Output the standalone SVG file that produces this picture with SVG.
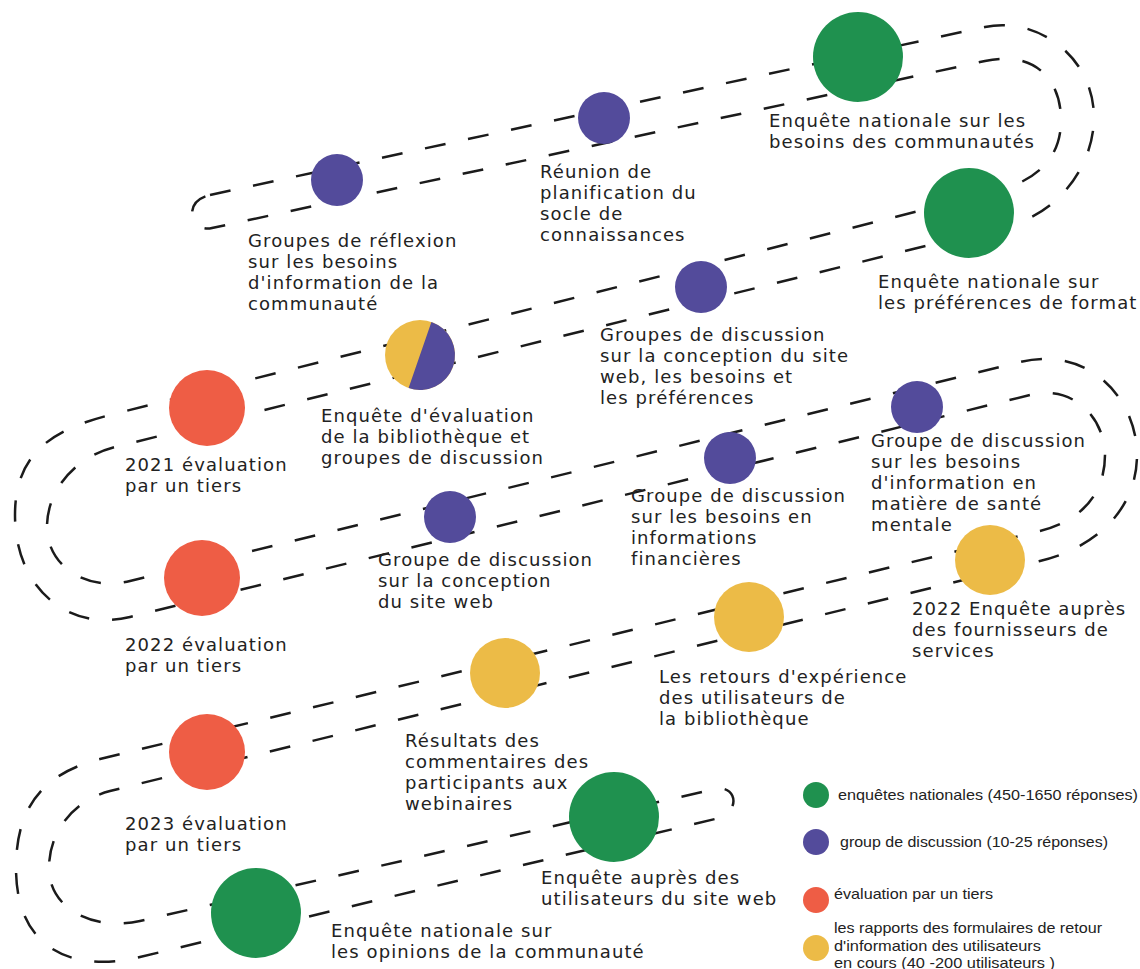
<svg xmlns="http://www.w3.org/2000/svg" width="1140" height="969" viewBox="0 0 1140 969">
<style>
.rd{fill:none;stroke:#1b1b1b;stroke-width:2.5;stroke-dasharray:21 23}
.lb{font-family:"DejaVu Sans","Liberation Sans",sans-serif;font-size:18px;letter-spacing:1.1px;fill:#222}
.lg{font-family:"Liberation Sans",Arial,sans-serif;font-size:15px;fill:#222}
.g{fill:#1f914f}.p{fill:#534b9b}.r{fill:#ee5d45}.y{fill:#ecbb47}
</style>
<rect width="1140" height="969" fill="#fff"/>
<g id="connectors">
<path class="rd" d="M 210,195 L 985,27 C 1035,16 1094,55 1094,118 C 1093,170 1055,214 1010,225 L 115,447 C 75,457 47,490 47,527 C 47,565 85,592 130,581 L 1020,362 C 1090,345 1137,400 1137,455 C 1137,510 1095,548 1040,561 L 110,791 C 75,800 49,830 49,868 C 49,910 95,931 140,921 L 715,789 C 737,784 742,813 715,819 L 140,957 C 80,972 16,955 16,868 C 16,800 50,772 100,759 L 1040,531 C 1080,521 1105,495 1105,455 C 1105,420 1075,384 1030,395 L 130,617 C 70,632 15,590 15,515 C 15,455 50,430 110,415 L 990,193 C 1035,182 1061,160 1061,120 C 1061,80 1035,50 985,61 L 212,228 C 190,233 182,201 210,195 Z"/>
</g>
<g id="n1"><circle class="p" cx="337" cy="180" r="26"/>
<text class="lb" x="248" y="247"><tspan x="248">Groupes de réflexion</tspan><tspan x="248" dy="21">sur les besoins</tspan><tspan x="248" dy="21">d'information de la</tspan><tspan x="248" dy="21">communauté</tspan></text></g>
<g id="n2"><circle class="p" cx="604" cy="118" r="26"/>
<text class="lb" x="540" y="178"><tspan x="540">Réunion de</tspan><tspan x="540" dy="21">planification du</tspan><tspan x="540" dy="21">socle de</tspan><tspan x="540" dy="21">connaissances</tspan></text></g>
<g id="n3"><circle class="g" cx="858" cy="57" r="45"/>
<text class="lb" x="769" y="127"><tspan x="769">Enquête nationale sur les</tspan><tspan x="769" dy="21">besoins des communautés</tspan></text></g>
<g id="n4"><circle class="g" cx="969" cy="213" r="45"/>
<text class="lb" x="878" y="288"><tspan x="878">Enquête nationale sur</tspan><tspan x="878" dy="21">les préférences de format</tspan></text></g>
<g id="n5"><circle class="p" cx="701" cy="287" r="26"/>
<text class="lb" x="600" y="341"><tspan x="600">Groupes de discussion</tspan><tspan x="600" dy="21">sur la conception du site</tspan><tspan x="600" dy="21">web, les besoins et</tspan><tspan x="600" dy="21">les préférences</tspan></text></g>
<g id="n6"><circle class="y" cx="420" cy="355" r="35"/><path class="p" d="M 431.4,321.9 A 35 35 0 0 1 408.6,388.1 Z"/>
<text class="lb" x="321" y="422"><tspan x="321">Enquête d'évaluation</tspan><tspan x="321" dy="21">de la bibliothèque et</tspan><tspan x="321" dy="21">groupes de discussion</tspan></text></g>
<g id="n7"><circle class="r" cx="207" cy="408" r="38"/>
<text class="lb" x="125" y="471"><tspan x="125">2021 évaluation</tspan><tspan x="125" dy="21">par un tiers</tspan></text></g>
<g id="n8"><circle class="p" cx="450" cy="517" r="26"/>
<text class="lb" x="378" y="566"><tspan x="378">Groupe de discussion</tspan><tspan x="378" dy="21">sur la conception</tspan><tspan x="378" dy="21">du site web</tspan></text></g>
<g id="n9"><circle class="p" cx="730" cy="458" r="26"/>
<text class="lb" x="631" y="502"><tspan x="631">Groupe de discussion</tspan><tspan x="631" dy="21">sur les besoins en</tspan><tspan x="631" dy="21">informations</tspan><tspan x="631" dy="21">financières</tspan></text></g>
<g id="n10"><circle class="p" cx="917" cy="407" r="26"/>
<text class="lb" x="871" y="447"><tspan x="871">Groupe de discussion</tspan><tspan x="871" dy="21">sur les besoins</tspan><tspan x="871" dy="21">d'information en</tspan><tspan x="871" dy="21">matière de santé</tspan><tspan x="871" dy="21">mentale</tspan></text></g>
<g id="n11"><circle class="r" cx="202" cy="578" r="38"/>
<text class="lb" x="125" y="651"><tspan x="125">2022 évaluation</tspan><tspan x="125" dy="21">par un tiers</tspan></text></g>
<g id="n12"><circle class="y" cx="990" cy="560" r="35"/>
<text class="lb" x="912" y="615"><tspan x="912">2022 Enquête auprès</tspan><tspan x="912" dy="21">des fournisseurs de</tspan><tspan x="912" dy="21">services</tspan></text></g>
<g id="n13"><circle class="y" cx="749" cy="617" r="35"/>
<text class="lb" x="659" y="683"><tspan x="659">Les retours d'expérience</tspan><tspan x="659" dy="21">des utilisateurs de</tspan><tspan x="659" dy="21">la bibliothèque</tspan></text></g>
<g id="n14"><circle class="y" cx="505" cy="673" r="35"/>
<text class="lb" x="405" y="747"><tspan x="405">Résultats des</tspan><tspan x="405" dy="21">commentaires des</tspan><tspan x="405" dy="21">participants aux</tspan><tspan x="405" dy="21">webinaires</tspan></text></g>
<g id="n15"><circle class="r" cx="207" cy="752" r="38"/>
<text class="lb" x="125" y="830"><tspan x="125">2023 évaluation</tspan><tspan x="125" dy="21">par un tiers</tspan></text></g>
<g id="n16"><circle class="g" cx="614" cy="817" r="45"/>
<text class="lb" x="541" y="884"><tspan x="541">Enquête auprès des</tspan><tspan x="541" dy="21">utilisateurs du site web</tspan></text></g>
<g id="n17"><circle class="g" cx="256" cy="913" r="45"/>
<text class="lb" x="331" y="937"><tspan x="331">Enquête nationale sur</tspan><tspan x="331" dy="21">les opinions de la communauté</tspan></text></g>
<g id="legend">
<circle class="g" cx="816" cy="795" r="13"/>
<text class="lg" x="838" y="800" textLength="300" lengthAdjust="spacingAndGlyphs">enquêtes nationales (450-1650 réponses)</text>
<circle class="p" cx="816" cy="842" r="13"/>
<text class="lg" x="840" y="847" textLength="268" lengthAdjust="spacingAndGlyphs">group de discussion (10-25 réponses)</text>
<circle class="r" cx="816" cy="900" r="13"/>
<text class="lg" x="834" y="899" textLength="159" lengthAdjust="spacingAndGlyphs">évaluation par un tiers</text>
<circle class="y" cx="816" cy="948" r="13"/>
<text class="lg" x="834" y="933" textLength="268" lengthAdjust="spacingAndGlyphs">les rapports des formulaires de retour</text>
<text class="lg" x="834" y="951" textLength="207" lengthAdjust="spacingAndGlyphs">d'information des utilisateurs</text>
<text class="lg" x="834" y="968" textLength="221" lengthAdjust="spacingAndGlyphs">en cours (40 -200 utilisateurs )</text>
</g>
</svg>
